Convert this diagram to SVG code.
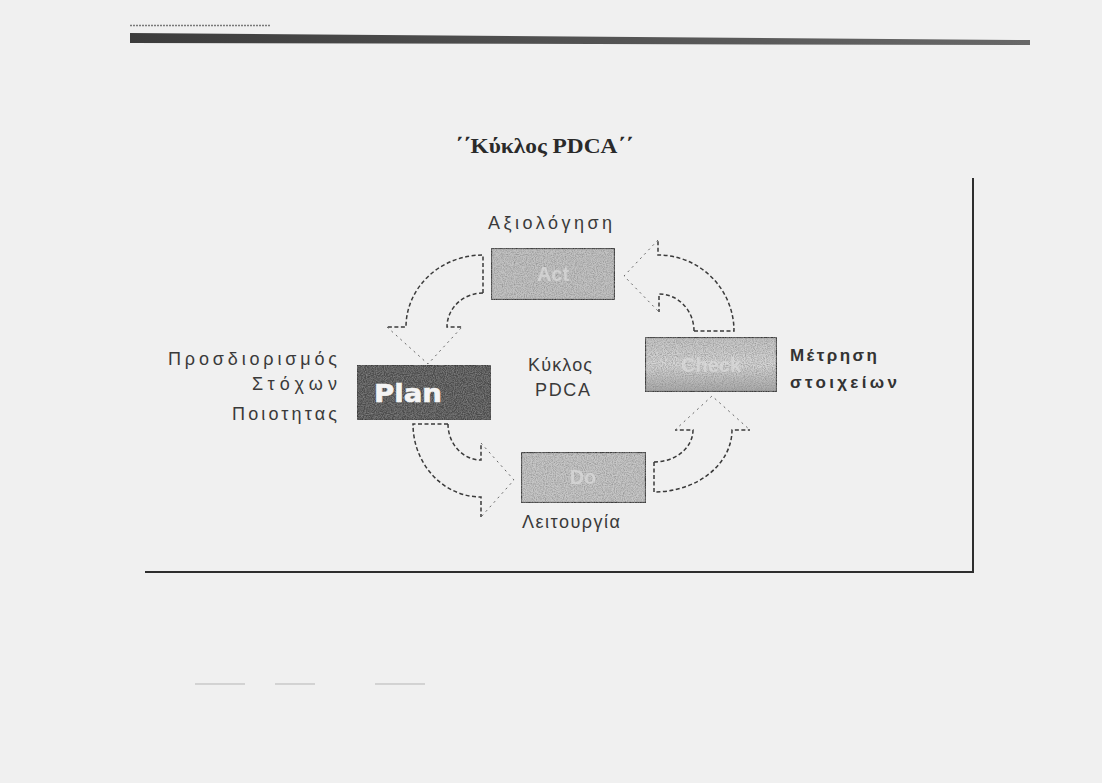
<svg xmlns="http://www.w3.org/2000/svg" width="1102" height="783" viewBox="0 0 1102 783">
  <defs>
    <style>
      .lbl { font-family: "Liberation Sans", "DejaVu Sans", sans-serif; font-size: 18px; fill: #3a3a3a; }
      .lblb { font-family: "Liberation Sans", "DejaVu Sans", sans-serif; font-size: 17px; font-weight: bold; fill: #333; }
      .ghost { font-family: "Liberation Sans", sans-serif; font-size: 20px; font-weight: bold; fill: #dadada; opacity: 0.75; }
      .arrow { fill: none; stroke: #3a3a3a; stroke-width: 1.5; stroke-dasharray: 4 2.5; }
      .head { fill: none; stroke: #666; stroke-width: 1; stroke-dasharray: 2 4; }
      .box { stroke: #3c3c3c; stroke-width: 2.2; }
      .frame { stroke: #2e2e2e; stroke-width: 2; fill: none; }
    </style>
    <filter id="grain" x="0" y="0" width="100%" height="100%">
      <feTurbulence type="fractalNoise" baseFrequency="0.9" numOctaves="2" seed="4" result="n"/>
      <feColorMatrix in="n" type="matrix" values="0 0 0 0 0.25  0 0 0 0 0.25  0 0 0 0 0.25  0 0 0 1.6 -0.55" result="dots"/>
      <feComposite in="dots" in2="SourceGraphic" operator="in" result="clip"/>
      <feMerge><feMergeNode in="SourceGraphic"/><feMergeNode in="clip"/></feMerge>
    </filter>
    <linearGradient id="barGrad" x1="0" y1="0" x2="1" y2="0">
      <stop offset="0" stop-color="#3c3c3c"/>
      <stop offset="1" stop-color="#686868"/>
    </linearGradient>
    <linearGradient id="checkGrad" x1="0" y1="0" x2="0" y2="1">
      <stop offset="0" stop-color="#c4c4c4"/>
      <stop offset="0.5" stop-color="#d6d6d6"/>
      <stop offset="1" stop-color="#a8a8a8"/>
    </linearGradient>
  </defs>

  <!-- paper -->
  <rect width="1102" height="783" fill="#f0f0f0"/>

  <!-- header rule -->
  <line x1="130" y1="25.5" x2="270" y2="25.5" stroke="#7a7a7a" stroke-width="1.5" stroke-dasharray="2 1"/>
  <polygon points="130,33 1030,40 1030,45 130,43" fill="url(#barGrad)"/>

  <!-- title -->
  <text x="455" y="153" textLength="178" lengthAdjust="spacingAndGlyphs" font-family="Liberation Serif, serif" font-size="21" font-weight="bold" fill="#2a2a2a">΄΄Κύκλος PDCA΄΄</text>

  <!-- outer frame -->
  <path class="frame" d="M973,178 V572 H145"/>

  <!-- connectors -->
  <g id="connectors">
    <!-- Act -> Plan -->
    <path class="arrow" d="M483,293 V255 A77,72 0 0 0 406,327 H387"/>
    <path class="arrow" d="M483,293 A36,34 0 0 0 447,327 H462"/>
    <path class="head" d="M387,327 L428,364 L462,327"/>
    <!-- Check -> Act -->
    <path class="arrow" d="M694,331 H734 A76,76 0 0 0 658,255 V240"/>
    <path class="arrow" d="M694,331 A35,37 0 0 0 659,294 V312"/>
    <path class="head" d="M658,240 L624,276 L659,312"/>
    <!-- Do -> Check -->
    <path class="arrow" d="M654,462 V492 A78,62 0 0 0 732,430 H750"/>
    <path class="arrow" d="M654,462 A39,32 0 0 0 693,430 H675"/>
    <path class="head" d="M675,430 L712,396 L750,430"/>
    <!-- Plan -> Do -->
    <path class="arrow" d="M448,424 H413 A68,73 0 0 0 481,497 V517"/>
    <path class="arrow" d="M448,424 A33,36 0 0 0 481,460 V443"/>
    <path class="head" d="M481,443 L514,480 L481,517"/>
  </g>

  <!-- Act -->
  <g id="act">
    <rect class="box" x="491" y="248" width="124" height="52" fill="#c2c2c2" filter="url(#grain)"/>
    <text class="ghost" x="553" y="281" text-anchor="middle">Act</text>
    <text class="lbl" x="488" y="229" textLength="124" lengthAdjust="spacing">Αξιολόγηση</text>
  </g>

  <!-- Plan -->
  <g id="plan">
    <rect class="box" x="357" y="365" width="134" height="55" fill="#4e4e4e" filter="url(#grain)"/>
    <text x="374" y="402" textLength="68" lengthAdjust="spacingAndGlyphs" font-family="DejaVu Sans, sans-serif" font-size="24" font-weight="bold" fill="#f4f4f4" stroke="#f4f4f4" stroke-width="0.6">Plan</text>
    <text class="lbl" x="168" y="365" textLength="169" lengthAdjust="spacing">Προσδιορισμός</text>
    <text class="lbl" x="252" y="390" textLength="85" lengthAdjust="spacing">Στόχων</text>
    <text class="lbl" x="232" y="420" textLength="105" lengthAdjust="spacing">Ποιοτητας</text>
  </g>

  <!-- centre caption -->
  <g id="centre">
    <text class="lbl" x="528" y="371" textLength="64" lengthAdjust="spacing">Κύκλος</text>
    <text class="lbl" x="535" y="396" textLength="55" lengthAdjust="spacing">PDCA</text>
  </g>

  <!-- Check -->
  <g id="check">
    <rect class="box" x="645" y="337" width="132" height="55" fill="url(#checkGrad)" filter="url(#grain)"/>
    <text class="ghost" x="711" y="372" text-anchor="middle">Check</text>
    <text class="lblb" x="790" y="361" textLength="87" lengthAdjust="spacing">Μέτρηση</text>
    <text class="lblb" x="790" y="388" textLength="107" lengthAdjust="spacing">στοιχείων</text>
  </g>

  <!-- Do -->
  <g id="do">
    <rect class="box" x="521" y="452" width="125" height="51" fill="#c6c6c6" filter="url(#grain)"/>
    <text class="ghost" x="583" y="484" text-anchor="middle">Do</text>
    <text class="lbl" x="522" y="528" textLength="98" lengthAdjust="spacing">Λειτουργία</text>
  </g>

  <!-- footer rules -->
  <g stroke="#b5b5b5" stroke-width="1">
    <line x1="195" y1="684" x2="245" y2="684"/>
    <line x1="275" y1="684" x2="315" y2="684"/>
    <line x1="375" y1="684" x2="425" y2="684"/>
  </g>
</svg>
